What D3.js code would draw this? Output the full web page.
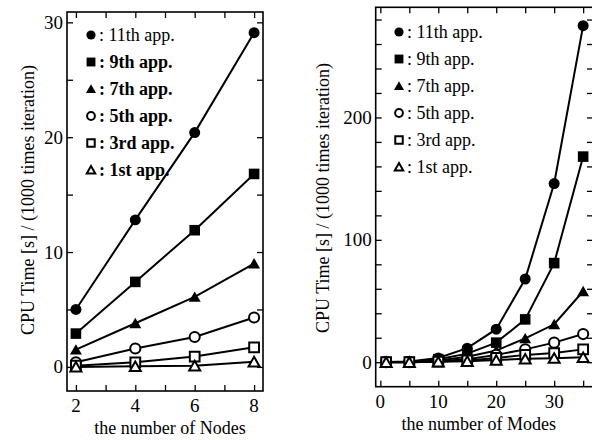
<!DOCTYPE html>
<html>
<head>
<meta charset="utf-8">
<script src="https://cdn.jsdelivr.net/npm/d3@7"></script>
<style>
  body { margin: 0; background: #fff; }
  svg { display: block; font-family: "Liberation Serif", "Times New Roman", serif; }
</style>
</head>
<body>
<div id="chart"></div>
<script>
// left panel: cpu time vs number of nodes
var nodes = [2, 4, 6, 8];
var nodeTimes11 = [5.0, 12.8, 20.4, 29.1];
var nodeTimes9 = [2.9, 7.4, 11.9, 16.8];
var nodeTimes7 = [1.5, 3.8, 6.1, 9.0];
var nodeTimes5 = [0.4, 1.6, 2.6, 4.3];
var nodeTimes3 = [0.1, 0.4, 0.9, 1.7];
var nodeTimes1 = [0.0, 0.05, 0.1, 0.45];
var nodeTickLabels = [2, 4, 6, 8];
var nodeYTickLabels = [0, 10, 20, 30];

// right panel: cpu time vs number of modes
var modes = [1, 5, 10, 15, 20, 25, 30, 35];
var modeTimes11 = [0.2, 0.5, 3.5, 11.5, 27, 68, 146, 275];
var modeTimes9 = [0.1, 0.3, 2.5, 7, 16, 35, 81, 168];
var modeTimes7 = [0.1, 0.2, 1.5, 4.5, 9.5, 19.5, 31, 58];
var modeTimes5 = [0.05, 0.1, 0.8, 2.5, 6, 10.5, 16, 23];
var modeTimes3 = [0.02, 0.05, 0.5, 1.5, 3.5, 6, 7.5, 10.5];
var modeTimes1 = [0.01, 0.02, 0.3, 0.8, 1.8, 2.8, 3.3, 4];
var modeTickLabels = [0, 10, 20, 30];
var modeYTickLabels = [0, 100, 200];

var seriesNames = ['11th app.', '9th app.', '7th app.', '5th app.', '3rd app.', '1st app.'];
var seriesShapes = ['circle', 'square', 'triangle', 'circle', 'square', 'triangle'];
var seriesFilled = [true, true, true, false, false, false];

var width = 592, height = 440;
var svg = d3.select('#chart').append('svg').attr('width', width).attr('height', height);

var shapeType = {circle: d3.symbolCircle, square: d3.symbolSquare, triangle: d3.symbolTriangle};
var shapeSize = {circle: 95, square: 112, triangle: 62};

function drawPanel(cfg) {
    var x = d3.scaleLinear().domain(cfg.xDomain).range([cfg.left, cfg.right]);
    var y = d3.scaleLinear().domain(cfg.yDomain).range([cfg.bottom, cfg.top]);
    var g = svg.append('g');

    // inward ticks on all four sides
    g.append('g').attr('transform', `translate(0,${cfg.bottom})`)
        .call(d3.axisBottom(x).tickValues(cfg.xMinor).tickSize(-6).tickFormat(''));
    g.append('g').attr('transform', `translate(0,${cfg.top})`)
        .call(d3.axisTop(x).tickValues(cfg.xMinor).tickSize(-6).tickFormat(''));
    g.append('g').attr('transform', `translate(${cfg.left},0)`)
        .call(d3.axisLeft(y).tickValues(cfg.yMinor).tickSize(-6).tickFormat(''));
    g.append('g').attr('transform', `translate(${cfg.right},0)`)
        .call(d3.axisRight(y).tickValues(cfg.yMinor).tickSize(-6).tickFormat(''));
    g.selectAll('.domain').remove();
    g.selectAll('.tick line').attr('stroke', '#000').attr('stroke-width', 1.3);

    g.append('rect').attr('x', cfg.left).attr('y', cfg.top)
        .attr('width', cfg.right - cfg.left).attr('height', cfg.bottom - cfg.top)
        .attr('fill', 'none').attr('stroke', '#000').attr('stroke-width', 1.6);

    // tick labels
    g.selectAll('.xl').data(cfg.xLabels).enter().append('text')
        .attr('x', d => x(d)).attr('y', cfg.bottom + 21)
        .attr('text-anchor', 'middle').attr('font-size', 19).text(d => d);
    g.selectAll('.yl').data(cfg.yLabels).enter().append('text')
        .attr('x', cfg.left - 4).attr('y', d => y(d) + 6.5)
        .attr('text-anchor', 'end').attr('font-size', 19).text(d => d);

    // axis titles
    g.append('text').attr('x', (cfg.left + Math.min(cfg.right, width)) / 2 + cfg.xTitleShift).attr('y', cfg.bottom + 43)
        .attr('text-anchor', 'middle').attr('font-size', 18).text(cfg.xTitle);
    g.append('text').attr('transform', `translate(${cfg.yTitleX},${cfg.yTitleY}) rotate(-90)`)
        .attr('text-anchor', 'middle').attr('font-size', 18).text('CPU Time [s] / (1000 times iteration)');

    var line = d3.line().x(d => x(d[0])).y(d => y(d[1]));
    var marks = g.append('g');
    cfg.series.forEach(function (vals) {
        var pts = cfg.xs.map((xv, j) => [xv, vals[j]]);
        marks.append('path').datum(pts).attr('d', line)
            .attr('fill', 'none').attr('stroke', '#000').attr('stroke-width', 2);
    });
    cfg.series.forEach(function (vals, i) {
        var pts = cfg.xs.map((xv, j) => [xv, vals[j]]);
        var shape = seriesShapes[i];
        marks.selectAll(null).data(pts).enter().append('path')
            .attr('transform', d => `translate(${x(d[0])},${y(d[1]) + (shape === 'triangle' ? 1.5 : 0)})`)
            .attr('d', d3.symbol().type(shapeType[shape]).size(shapeSize[shape] * (seriesFilled[i] ? 1 : 0.85)))
            .attr('fill', seriesFilled[i] ? '#000' : '#fff')
            .attr('stroke', '#000').attr('stroke-width', seriesFilled[i] ? 0 : 2);
    });

    // legend
    var lg = g.append('g');
    seriesNames.forEach(function (name, i) {
        var ly = cfg.legendY + i * cfg.legendStep;
        var shape = seriesShapes[i];
        lg.append('path')
            .attr('transform', `translate(${cfg.legendX},${ly + (shape === 'triangle' ? 1 : 0)})`)
            .attr('d', d3.symbol().type(shapeType[shape]).size(shapeSize[shape] * (seriesFilled[i] ? 0.7 : 0.5)))
            .attr('fill', seriesFilled[i] ? '#000' : '#fff')
            .attr('stroke', '#000').attr('stroke-width', seriesFilled[i] ? 0 : 2);
        lg.append('text').attr('x', cfg.legendX + 8).attr('y', ly + 6)
            .attr('font-size', 18)
            .attr('font-weight', cfg.boldLegend && i > 0 ? 'bold' : 'normal')
            .text(': ' + name);
    });
}

drawPanel({
    left: 67, right: 263, top: 12, bottom: 391,
    xDomain: [1.7, 8.3], yDomain: [-2.1, 30.9],
    xMinor: d3.range(2, 9, 1), yMinor: d3.range(0, 31, 5),
    xLabels: nodeTickLabels, yLabels: nodeYTickLabels,
    xs: nodes,
    series: [nodeTimes11, nodeTimes9, nodeTimes7, nodeTimes5, nodeTimes3, nodeTimes1],
    xTitle: 'the number of Nodes', xTitleShift: 5, yTitleX: 34, yTitleY: 200,
    legendX: 91, legendY: 35, legendStep: 27, boldLegend: true
});

drawPanel({
    left: 375.7, right: 593, top: 7.3, bottom: 386.7,
    xDomain: [-0.8, 36.7], yDomain: [-20, 290],
    xMinor: d3.range(0, 36, 5), yMinor: d3.range(0, 281, 20),
    xLabels: modeTickLabels, yLabels: modeYTickLabels,
    xs: modes,
    series: [modeTimes11, modeTimes9, modeTimes7, modeTimes5, modeTimes3, modeTimes1],
    xTitle: 'the number of Modes', xTitleShift: -5, yTitleX: 329, yTitleY: 198,
    legendX: 399, legendY: 32, legendStep: 27, boldLegend: false
});
</script>
</body>
</html>
